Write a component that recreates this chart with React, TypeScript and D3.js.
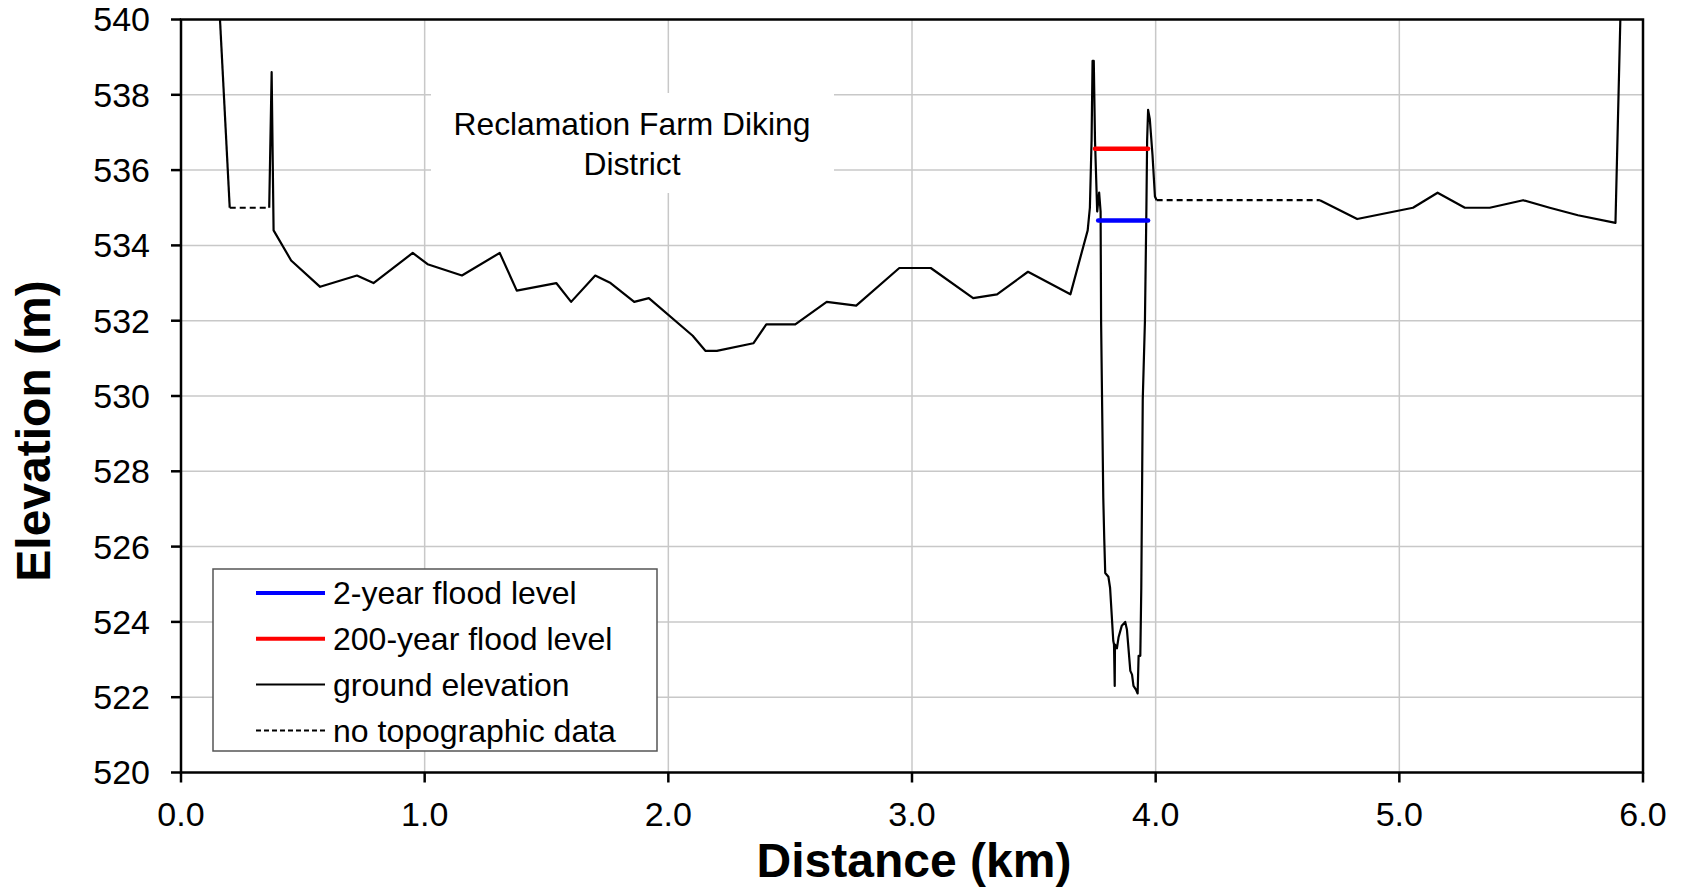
import React from 'react';
import * as d3 from 'd3';

// distance (km), elevation (m)
const groundStart: [number, number][] = [
  [0.160, 540.0], [0.200, 535.0],
];
const gapWest: [number, number][] = [
  [0.200, 535.0], [0.362, 535.0],
];
const groundMain: [number, number][] = [
  [0.362, 535.0], [0.372, 538.6], [0.380, 534.4], [0.452, 533.6], [0.571, 532.9],
  [0.722, 533.2], [0.790, 533.0], [0.951, 533.8], [1.012, 533.5], [1.153, 533.2],
  [1.308, 533.8], [1.378, 532.8], [1.540, 533.0], [1.601, 532.5], [1.700, 533.2],
  [1.763, 533.0], [1.860, 532.5], [1.920, 532.6], [2.100, 531.6], [2.152, 531.2],
  [2.199, 531.2], [2.349, 531.4], [2.402, 531.9], [2.521, 531.9], [2.650, 532.5],
  [2.771, 532.4], [2.948, 533.4], [3.077, 533.4], [3.251, 532.6], [3.349, 532.7],
  [3.476, 533.3], [3.650, 532.7], [3.721, 534.4], [3.730, 535.0], [3.737, 536.8],
  [3.741, 538.9], [3.746, 538.9], [3.751, 536.8], [3.760, 534.9], [3.768, 535.4],
  [3.774, 534.9], [3.776, 532.0], [3.785, 527.3], [3.789, 526.2], [3.793, 525.3],
  [3.806, 525.2], [3.813, 524.9], [3.826, 523.5], [3.829, 523.4], [3.832, 522.3],
  [3.833, 523.4], [3.841, 523.3], [3.848, 523.6], [3.861, 523.9], [3.875, 524.0],
  [3.882, 523.8], [3.896, 522.7], [3.903, 522.6], [3.909, 522.3], [3.919, 522.2],
  [3.926, 522.1], [3.930, 523.1], [3.937, 523.1], [3.941, 524.9], [3.947, 529.9],
  [3.956, 532.0], [3.962, 535.0], [3.965, 536.8], [3.969, 537.6], [3.976, 537.35],
  [3.987, 536.4], [3.997, 535.3], [4.004, 535.2],
];
const gapEast: [number, number][] = [
  [4.004, 535.2], [4.674, 535.2],
];
const groundEnd: [number, number][] = [
  [4.674, 535.2], [4.827, 534.7], [5.056, 535.0], [5.157, 535.4], [5.269, 535.0],
  [5.371, 535.0], [5.508, 535.2], [5.617, 535.0], [5.733, 534.8], [5.887, 534.6],
  [5.907, 540.0],
];
const flood2yr: [number, number][] = [[3.764, 534.66], [3.969, 534.66]];
const flood200yr: [number, number][] = [[3.751, 536.57], [3.969, 536.57]];

const xTicks = [0, 1, 2, 3, 4, 5, 6];
const yTicks = [520, 522, 524, 526, 528, 530, 532, 534, 536, 538, 540];

const legendItems = [
  { label: '2-year flood level', color: '#0000ff', width: 4, dash: '' },
  { label: '200-year flood level', color: '#ff0000', width: 4, dash: '' },
  { label: 'ground elevation', color: '#000000', width: 2, dash: '' },
  { label: 'no topographic data', color: '#000000', width: 2, dash: '5,3' },
];

const W = 1687;
const H = 888;
const margin = { top: 19.5, right: 44, bottom: 115.5, left: 181 };
const font = 'Liberation Sans, Arial, sans-serif';

export default function App() {
  const x = d3.scaleLinear().domain([0, 6]).range([margin.left, W - margin.right]);
  const y = d3.scaleLinear().domain([520, 540]).range([H - margin.bottom, margin.top]);
  const line = d3.line<[number, number]>().x(d => x(d[0])).y(d => y(d[1]));

  const x0 = x(0), x1 = x(6), y0 = y(520), y1 = y(540);

  return (
    <svg width={W} height={H} style={{ position: 'absolute', left: 0, top: 0, background: '#fff' }}
      fontFamily={font}>
      <defs>
        <clipPath id="plot">
          <rect x={x0} y={y1} width={x1 - x0} height={y0 - y1} />
        </clipPath>
      </defs>

      {/* grid */}
      <g stroke="#c8c8c8" strokeWidth={1.5}>
        {yTicks.slice(1, -1).map(t => (
          <line key={'gy' + t} x1={x0} x2={x1} y1={y(t)} y2={y(t)} />
        ))}
        {xTicks.slice(1, -1).map(t => (
          <line key={'gx' + t} x1={x(t)} x2={x(t)} y1={y1} y2={y0} />
        ))}
      </g>

      {/* annotation box */}
      <rect x={431} y={93} width={403} height={100} fill="#fff" />
      <text x={632} y={135} fontSize={31.8} textAnchor="middle">Reclamation Farm Diking</text>
      <text x={632} y={175} fontSize={31.8} textAnchor="middle">District</text>

      <g clipPath="url(#plot)" fill="none">
        {[groundStart, groundMain, groundEnd].map((s, i) => (
          <path key={'g' + i} d={line(s) ?? ''} stroke="#000" strokeWidth={2.2} strokeLinejoin="round" />
        ))}
        {[gapWest, gapEast].map((s, i) => (
          <path key={'n' + i} d={line(s) ?? ''} stroke="#000" strokeWidth={2.2} strokeDasharray="6,4" />
        ))}
        <path d={line(flood200yr) ?? ''} stroke="#ff0000" strokeWidth={4.5} strokeLinecap="round" />
        <path d={line(flood2yr) ?? ''} stroke="#0000ff" strokeWidth={4.5} strokeLinecap="round" />
      </g>

      {/* frame */}
      <rect x={x0} y={y1} width={x1 - x0} height={y0 - y1} fill="none" stroke="#000" strokeWidth={2.5} />

      {/* y axis */}
      {yTicks.map(t => (
        <g key={'yt' + t}>
          <line x1={x0 - 10} x2={x0} y1={y(t)} y2={y(t)} stroke="#000" strokeWidth={2.5} />
          <text x={x0 - 31} y={y(t)} dy="0.35em" fontSize={34} textAnchor="end">{t}</text>
        </g>
      ))}
      {/* x axis */}
      {xTicks.map(t => (
        <g key={'xt' + t}>
          <line x1={x(t)} x2={x(t)} y1={y0} y2={y0 + 10} stroke="#000" strokeWidth={2.5} />
          <text x={x(t)} y={826} fontSize={34} textAnchor="middle">{t.toFixed(1)}</text>
        </g>
      ))}

      <text x={914} y={877} fontSize={48} fontWeight="bold" textAnchor="middle">Distance (km)</text>
      <text transform="translate(50,431) rotate(-90)" fontSize={48} fontWeight="bold" textAnchor="middle">
        Elevation (m)
      </text>

      {/* legend */}
      <rect x={213} y={569} width={444} height={182} fill="#fff" stroke="#555" strokeWidth={1.5} />
      {legendItems.map((d, i) => {
        const ly = 593 + i * 45.8;
        return (
          <g key={d.label}>
            <line x1={256} x2={325} y1={ly} y2={ly} stroke={d.color} strokeWidth={d.width}
              strokeDasharray={d.dash} />
            <text x={333} y={ly} dy="0.35em" fontSize={32}>{d.label}</text>
          </g>
        );
      })}
    </svg>
  );
}
